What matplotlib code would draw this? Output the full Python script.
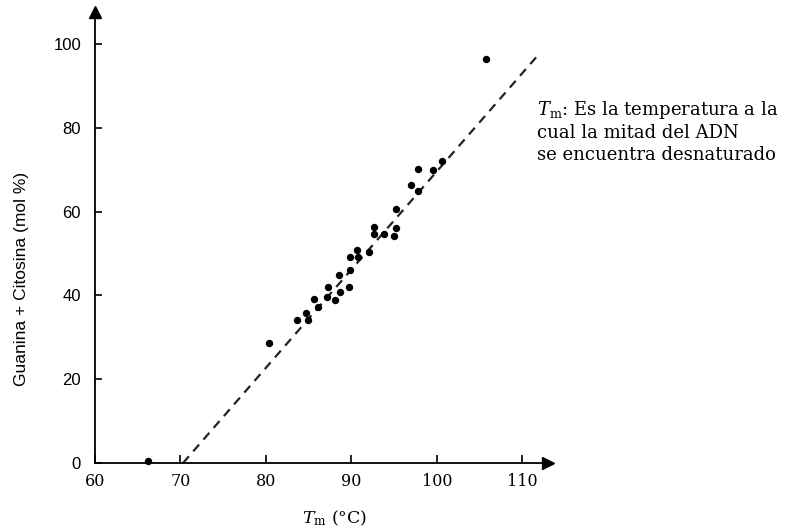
import matplotlib
matplotlib.use("Agg")
import matplotlib.pyplot as plt

plt.rcParams.update({
    "font.family": "DejaVu Serif",
    "mathtext.fontset": "dejavuserif",
})

# Tm (°C) and G+C (mol %)
tm = [66.2, 80.4, 83.6, 84.7, 84.9, 85.6, 86.1, 87.2, 88.1, 87.3,
      88.7, 89.7, 88.6, 89.8, 89.8, 90.7, 90.8, 92.1, 92.6, 92.6,
      93.8, 95.2, 95.0, 95.2, 97.0, 97.8, 97.8, 99.6, 100.6, 105.8]
gc = [0.5, 28.7, 34.0, 35.9, 34.2, 39.1, 37.2, 39.5, 38.9, 42.0,
      40.9, 42.0, 44.9, 46.0, 49.2, 50.9, 49.2, 50.3, 56.3, 54.6,
      54.6, 56.0, 54.1, 60.6, 66.4, 65.0, 70.2, 69.8, 72.0, 96.5]

# dashed reference line, end points
line_tm = [70.3, 112.0]
line_gc = [0.0, 97.7]

x_ticks = [60, 70, 80, 90, 100, 110]
y_ticks = [0, 20, 40, 60, 80, 100]

fig = plt.figure(figsize=(7.87, 5.31), dpi=100)
ax = fig.add_axes([95 / 787, 68 / 531, 453 / 787, 451 / 531])

ax.plot(line_tm, line_gc, color="#222222", lw=1.6, ls=(0, (4, 3)), zorder=2)
ax.plot(tm, gc, "o", color="black", ms=4.3, zorder=3, clip_on=False)

ax.set_xlim(60, 113)
ax.set_ylim(0, 107.6)
ax.set_xticks(x_ticks)
ax.set_yticks(y_ticks)

for s in ("top", "right"):
    ax.spines[s].set_visible(False)
for s in ("left", "bottom"):
    ax.spines[s].set_linewidth(1.3)

ax.tick_params(axis="x", direction="in", length=6, width=1.2, labelsize=11.5, pad=7)
ax.tick_params(axis="y", direction="in", length=5, width=1.2, labelsize=12, pad=10)
for lab in ax.get_xticklabels():
    lab.set_fontfamily("DejaVu Serif")
for lab in ax.get_yticklabels():
    lab.set_fontfamily("Liberation Sans")

# axis arrows
ax.plot(1, 0, ">k", ms=8, transform=ax.transAxes, clip_on=False)
ax.plot(0, 1, "^k", ms=8, transform=ax.transAxes, clip_on=False)

fig.text(335 / 787, 1 - 518 / 531, r"$T_{\rm m}$ (°C)", ha="center", va="center",
         fontsize=12.5)
fig.text(22 / 787, 1 - 279 / 531, "Guanina + Citosina (mol %)", rotation=90,
         ha="center", va="center", fontsize=12.5, family="Liberation Sans")

fig.text(537 / 787, 1 - 99 / 531,
         r"$T_{\rm m}$: Es la temperatura a la" "\n"
         "cual la mitad del ADN\n"
         "se encuentra desnaturado",
         ha="left", va="top", fontsize=13, linespacing=1.25)

fig.savefig("out.png", dpi=100, facecolor="white")
